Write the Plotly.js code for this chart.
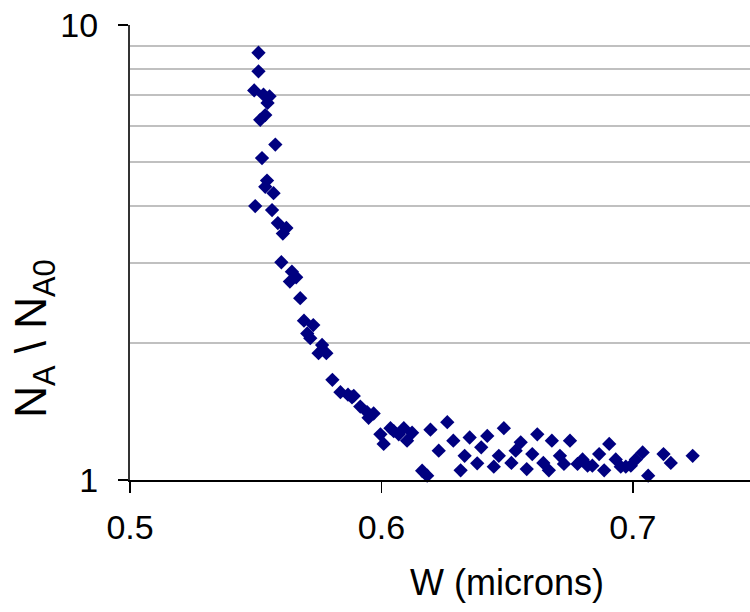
<!DOCTYPE html>
<html>
<head>
<meta charset="utf-8">
<script src="https://cdn.plot.ly/plotly-3.0.1.min.js"></script>
<style>html,body{margin:0;padding:0;background:#fff;}#chart{width:750px;height:612px;}</style>
</head>
<body>
<div id="chart"></div>
<script>
// W (microns)
var widthMicrons = [
  0.5511, 0.5511, 0.5494, 0.5531, 0.5555, 0.5547, 0.5518, 0.5538, 0.5578, 0.5525,
  0.5545, 0.5538, 0.5571, 0.5498, 0.5565, 0.5588, 0.5622, 0.5608, 0.5602, 0.5644,
  0.5661, 0.5636, 0.5677, 0.5692, 0.5729, 0.5705, 0.5717, 0.5764, 0.5750, 0.5781,
  0.5805, 0.5837, 0.5867, 0.5883, 0.5890, 0.5916, 0.5943, 0.5969, 0.5949, 0.5996,
  0.6009, 0.6036, 0.6049, 0.6069, 0.6089, 0.6122, 0.6102, 0.6195, 0.6262, 0.6228,
  0.6162, 0.6182, 0.6286, 0.6351, 0.6331, 0.6315, 0.6381, 0.6421, 0.6397, 0.6447,
  0.6467, 0.6487, 0.6517, 0.6534, 0.6554, 0.6578, 0.6600, 0.6620, 0.6644, 0.6666,
  0.6678, 0.6710, 0.6726, 0.6750, 0.6780, 0.6800, 0.6820, 0.6839, 0.6866, 0.6886,
  0.6906, 0.6932, 0.6952, 0.6972, 0.6992, 0.7012, 0.7039, 0.7061, 0.7122, 0.7151,
  0.7238
];
// N_A \ N_A0
var ratioNA = [
  8.69, 7.91, 7.18, 7.03, 6.97, 6.74, 6.19, 6.34, 5.46, 5.10,
  4.55, 4.41, 4.27, 4.00, 3.92, 3.67, 3.58, 3.48, 3.01, 2.87,
  2.79, 2.73, 2.51, 2.24, 2.19, 2.10, 2.05, 1.98, 1.90, 1.90,
  1.66, 1.56, 1.54, 1.52, 1.53, 1.45, 1.41, 1.40, 1.37, 1.26,
  1.20, 1.30, 1.28, 1.26, 1.30, 1.27, 1.22, 1.29, 1.34, 1.16,
  1.048, 1.022, 1.22, 1.24, 1.13, 1.05, 1.088, 1.25, 1.18, 1.07,
  1.13, 1.30, 1.09, 1.16, 1.21, 1.057, 1.14, 1.26, 1.09, 1.05,
  1.22, 1.13, 1.085, 1.22, 1.085, 1.11, 1.075, 1.075, 1.14, 1.05,
  1.20, 1.11, 1.07, 1.07, 1.075, 1.11, 1.15, 1.022, 1.14, 1.09,
  1.13
];
var xTickVals = [0.5, 0.6, 0.7];
var xTickText = ["0.5", "0.6", "0.7"];
var yTickVals = [1, 10];
var yTickText = ["1", "10"];
var yMinorVals = [2, 3, 4, 5, 6, 7, 8, 9];
var xTitle = "W (microns)";
var yTitle = "N<sub>A</sub> \\ N<sub>A0</sub>";

var font = "Liberation Sans, Arial, sans-serif";

var trace = {
  type: "scatter",
  mode: "markers",
  x: widthMicrons,
  y: ratioNA,
  marker: { symbol: "diamond", size: 11, color: "#000080", line: { width: 0 } },
  hoverinfo: "skip",
  cliponaxis: false
};

var layout = {
  width: 750,
  height: 612,
  margin: { l: 130, r: 0, t: 25, b: 132, pad: 0 },
  paper_bgcolor: "#ffffff",
  plot_bgcolor: "#ffffff",
  showlegend: false,
  font: { family: font, size: 34, color: "#000000" },
  xaxis: {
    type: "linear",
    range: [0.5, 0.7466],
    tickmode: "array",
    tickvals: xTickVals,
    ticktext: xTickText,
    ticks: "outside",
    ticklen: 11,
    tickwidth: 1.5,
    tickcolor: "#000000",
    ticklabelstandoff: 5,
    showgrid: false,
    zeroline: false,
    showline: true,
    linecolor: "#000000",
    linewidth: 2,
    tickfont: { family: font, size: 34, color: "#000000" }
  },
  yaxis: {
    type: "log",
    range: [0, 1],
    tickmode: "array",
    tickvals: yTickVals,
    ticktext: yTickText,
    ticks: "outside",
    ticklen: 10,
    tickwidth: 1.5,
    tickcolor: "#000000",
    ticklabelstandoff: 13,
    showgrid: true,
    gridcolor: "#8c8c8c",
    gridwidth: 2,
    minor: { tickmode: "array", tickvals: yMinorVals, showgrid: true, gridcolor: "#c0c0c0", gridwidth: 2, ticks: "" },
    zeroline: false,
    showline: true,
    linecolor: "#333333",
    linewidth: 2,
    tickfont: { family: font, size: 34, color: "#000000" }
  },
  annotations: [
    {
      text: xTitle,
      xref: "paper", yref: "paper",
      x: 0.608, y: -0.226,
      xanchor: "center", yanchor: "middle",
      showarrow: false,
      font: { family: font, size: 36, color: "#000000" }
    },
    {
      text: yTitle,
      xref: "paper", yref: "paper",
      x: -0.155, y: 0.31,
      xanchor: "center", yanchor: "middle",
      textangle: -90,
      showarrow: false,
      font: { family: font, size: 44, color: "#000000" }
    }
  ]
};

Plotly.newPlot("chart", [trace], layout, { staticPlot: true, displayModeBar: false });
</script>
</body>
</html>
